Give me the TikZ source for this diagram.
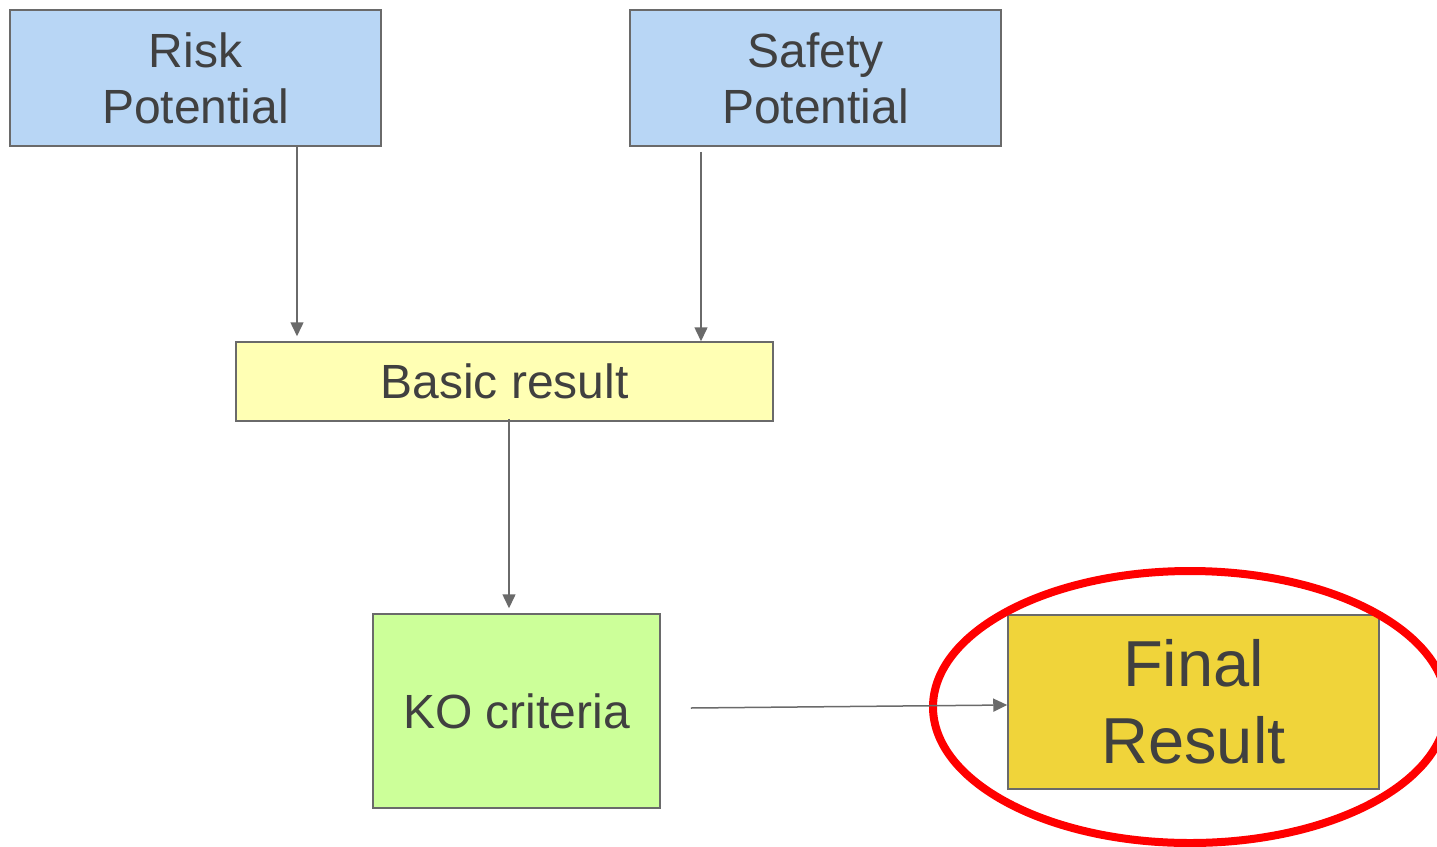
\documentclass[tikz,border=0pt]{standalone}
\usepackage{fontspec}
\setmainfont{Liberation Sans}
\usetikzlibrary{arrows.meta,shapes.geometric}
\definecolor{txt}{HTML}{404040}
\definecolor{edge}{HTML}{6A6A6A}
\definecolor{blueF}{HTML}{B8D6F5}
\definecolor{yelF}{HTML}{FFFFB4}
\definecolor{greenF}{HTML}{CCFF99}
\definecolor{goldF}{HTML}{F0D43A}
\definecolor{ringR}{HTML}{FF0000}
\tikzset{
  box/.style={draw=edge, line width=1.5pt, inner sep=0pt, align=center, text=txt,
    font=\fontsize{48}{56}\selectfont},
  arr/.style={draw=edge, line width=1.5pt, -{Triangle[length=14pt,width=13pt]}},
}
\begin{document}
\begin{tikzpicture}[x=1pt,y=-1pt]
\path[use as bounding box, fill=white] (0,0) rectangle (1437,846);
\node[box, fill=blueF, minimum width=371pt, minimum height=136pt] (risk) at (195.5,78) {Risk\\Potential};
\node[box, fill=blueF, minimum width=371pt, minimum height=136pt] (safety) at (815.5,78) {Safety\\Potential};
\node[box, fill=yelF, minimum width=537pt, minimum height=79pt] (basic) at (504.5,381.5) {Basic result};
\node[box, fill=greenF, minimum width=287pt, minimum height=194pt] (ko) at (516.5,711) {KO criteria};
\node[box, fill=goldF, minimum width=371pt, minimum height=174pt, font=\fontsize{65}{77}\selectfont] (final) at (1193.5,702) {Final\\Result};
\node[draw=ringR, line width=8pt, ellipse, minimum width=514pt, minimum height=272pt, inner sep=0pt] (ring) at (1190,707) {};
\draw[arr, shorten >=5pt] ([xshift=101.5pt]risk.south) -- ([xshift=101.5pt]risk.south |- basic.north);
\draw[arr, shorten <=5pt] ([xshift=-114.5pt]safety.south) -- ([xshift=-114.5pt]safety.south |- basic.north);
\draw[arr, shorten <=-3pt, shorten >=5pt] ([xshift=4.5pt]basic.south) -- ([xshift=4.5pt]basic.south |- ko.north);
\draw[arr] ([xshift=30pt,yshift=3pt]ko.east) -- ([yshift=-3pt]final.west);
\end{tikzpicture}
\end{document}
